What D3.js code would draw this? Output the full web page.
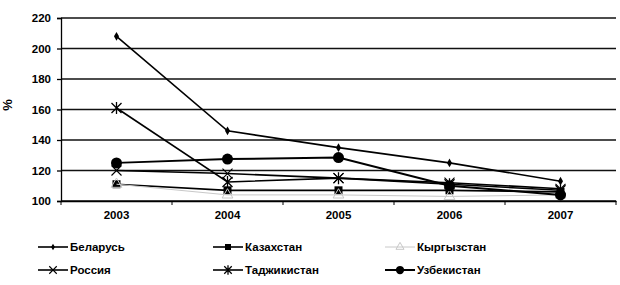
<!DOCTYPE html>
<html>
<head>
<meta charset="utf-8">
<script src="https://cdn.jsdelivr.net/npm/d3@7"></script>
<style>
  body { margin: 0; background: #fff; }
  svg text { font-family: "Liberation Sans", Arial, sans-serif; font-weight: bold; fill: #000; }
</style>
</head>
<body>
<svg id="chart" width="620" height="285"></svg>
<script>
// chart data
const years = ["2003", "2004", "2005", "2006", "2007"];
const belarus = [208, 146, 135, 125, 113];
const kazakhstan = [111, 107, 107, 107, 106];
const kyrgyzstan = [111, 104, 104, 103, 104];
const russia = [120, 118, 115, 112, 108];
const tajikistan = [161, 112.5, 115, 111, 107];
const uzbekistan = [125, 127.5, 128.5, 110, 104];
const yTicks = [100, 120, 140, 160, 180, 200, 220];

const series = [
    { name: "Беларусь", values: belarus, marker: "diamond", color: "#000", width: 1.6 },
    { name: "Казахстан", values: kazakhstan, marker: "square", color: "#000", width: 1.6 },
    { name: "Кыргызстан", values: kyrgyzstan, marker: "triangle", color: "#c8c8c8", width: 1 },
    { name: "Россия", values: russia, marker: "x", color: "#000", width: 1.6 },
    { name: "Таджикистан", values: tajikistan, marker: "star", color: "#000", width: 1.6 },
    { name: "Узбекистан", values: uzbekistan, marker: "circle", color: "#000", width: 2 }
];

const svg = d3.select("#chart");
const plotLeft = 61, plotRight = 616, plotTop = 18, plotBottom = 201;

const x = d3.scaleBand().domain(years).range([plotLeft, plotRight]);
const y = d3.scaleLinear().domain([100, 220]).range([plotBottom, plotTop]);

// gridlines
svg.append("g")
    .selectAll("line")
    .data(yTicks)
    .enter()
    .append("line")
    .attr("x1", plotLeft)
    .attr("x2", plotRight)
    .attr("y1", d => y(d))
    .attr("y2", d => y(d))
    .attr("stroke", "#111")
    .attr("stroke-width", 1.3);

// axes
svg.append("g")
    .attr("transform", `translate(${plotLeft},0)`)
    .call(d3.axisLeft(y).tickValues(yTicks).tickSize(4).tickPadding(6))
    .call(g => g.selectAll("text").style("font-size", "11.5px"))
    .call(g => g.selectAll("line, path").attr("stroke", "#000").attr("stroke-width", 1.3));

svg.append("g")
    .attr("transform", `translate(0,${plotBottom})`)
    .call(d3.axisBottom(x).tickSize(0).tickPadding(10))
    .call(g => g.select("path").attr("stroke", "#000").attr("stroke-width", 1.3))
    .call(g => g.selectAll("text").style("font-size", "11.5px"));

// category tick marks between bands
svg.append("g")
    .selectAll("line")
    .data(years.concat(["end"]))
    .enter()
    .append("line")
    .attr("x1", (d, i) => plotLeft + i * x.bandwidth())
    .attr("x2", (d, i) => plotLeft + i * x.bandwidth())
    .attr("y1", plotBottom)
    .attr("y2", plotBottom + 4)
    .attr("stroke", "#000");

svg.append("text")
    .attr("transform", "translate(12,105) rotate(-90)")
    .attr("text-anchor", "middle")
    .style("font-size", "13px")
    .text("%");

const cx = d => x(d) + x.bandwidth() / 2;

function drawMarker(g, type, color, scale) {
    const k = scale || 1;
    if (type === "diamond") {
        g.append("path").attr("d", d3.symbol(d3.symbolDiamond, 22 * k * k)()).attr("fill", color);
    } else if (type === "square") {
        g.append("path").attr("d", d3.symbol(d3.symbolSquare, 64 * k * k)()).attr("fill", color);
    } else if (type === "triangle") {
        g.append("path").attr("d", d3.symbol(d3.symbolTriangle, 50 * k * k)()).attr("fill", "none").attr("stroke", color);
    } else if (type === "x") {
        const r = 5 * k;
        g.append("path").attr("d", `M${-r},${-r}L${r},${r}M${-r},${r}L${r},${-r}`).attr("stroke", color).attr("stroke-width", 1.1);
    } else if (type === "star") {
        const r = 5 * k;
        g.append("path").attr("d", `M${-r},${-r}L${r},${r}M${-r},${r}L${r},${-r}M0,${-r - 1}L0,${r + 1}`).attr("stroke", color).attr("stroke-width", 1.3);
    } else if (type === "circle") {
        g.append("circle").attr("r", 5.5 * k).attr("fill", color);
    }
}

const line = d3.line().x(d => cx(d.year)).y(d => y(d.value));

series.forEach(s => {
    const pts = years.map((yr, i) => ({ year: yr, value: s.values[i] }));
    svg.append("path")
        .datum(pts)
        .attr("d", line)
        .attr("fill", "none")
        .attr("stroke", s.color)
        .attr("stroke-width", s.width);
    svg.append("g")
        .selectAll("g")
        .data(pts)
        .enter()
        .append("g")
        .attr("transform", d => `translate(${cx(d.year)},${y(d.value)})`)
        .each(function () { drawMarker(d3.select(this), s.marker, s.color); });
});

// legend, 3 columns x 2 rows
const legendX = [38, 213, 385];
const legendY = [247, 270];
series.forEach((s, i) => {
    const g = svg.append("g")
        .attr("transform", `translate(${legendX[i % 3]},${legendY[Math.floor(i / 3)]})`);
    g.append("line").attr("x1", 0).attr("x2", 30).attr("stroke", s.color).attr("stroke-width", s.width);
    const m = g.append("g").attr("transform", "translate(15,0)");
    drawMarker(m, s.marker, s.color, 0.75);
    g.append("text").attr("x", 32).attr("y", 4).style("font-size", "11.5px").text(s.name);
});
</script>
</body>
</html>
